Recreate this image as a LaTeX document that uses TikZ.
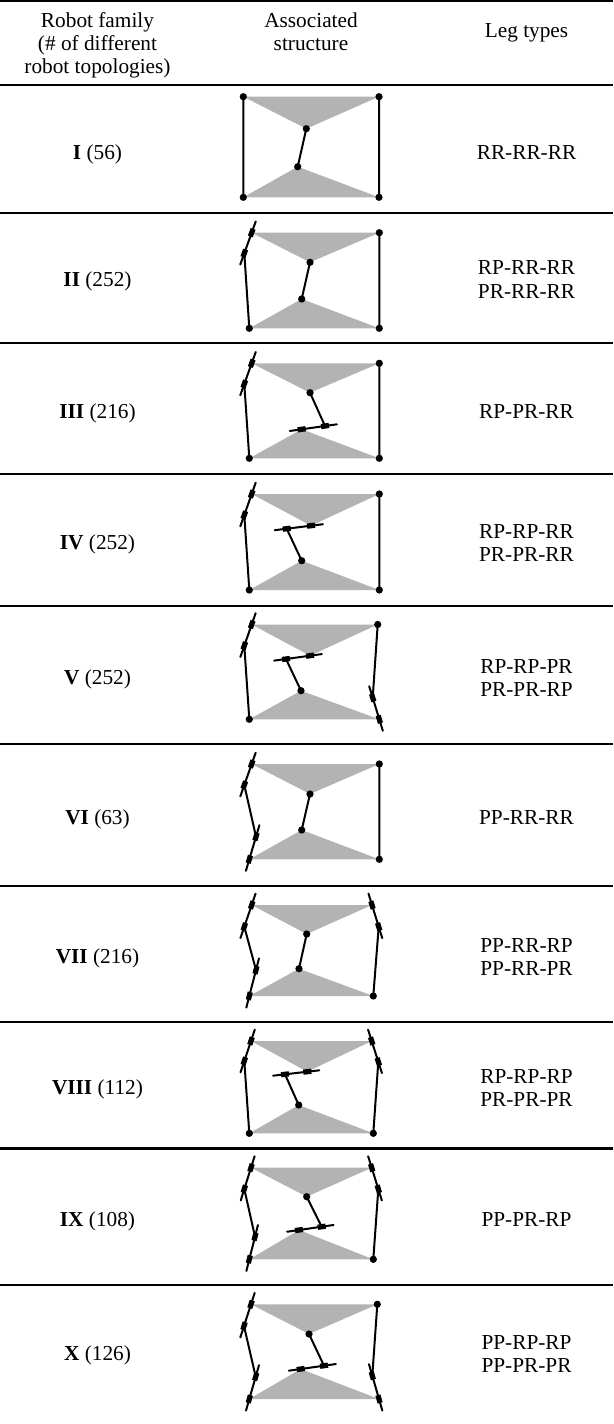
\documentclass[tikz,border=0pt]{standalone}
\usepackage{fontspec}
\setmainfont{Liberation Serif}
\usetikzlibrary{calc}
\definecolor{trigray}{RGB}{179,179,179}
\tikzset{
 leg/.style={line width=0.8pt, line cap=round},
 rulebar/.style={line width=0.95pt},
 plat/.style={fill=trigray, draw=none},
 jdot/.style={circle, fill=black, inner sep=0pt, minimum size=2.9pt},
 jbox/.style={rectangle, fill=black, inner sep=0pt, minimum width=3.2pt, minimum height=2.1pt},
 txt/.style={anchor=base, inner sep=0pt, font=\fontsize{8.52}{9.4}\selectfont},
}
\newcommand{\slid}[2]{%
  \draw[leg] ($(#1)!-4.8pt!(#2)$) -- ($(#2)!-4.8pt!(#1)$);
  \path (#1) -- (#2) node[jbox, sloped, pos=0] (#1box) {} node[jbox, sloped, pos=1] (#2box) {};}
\newcommand{\jd}[1]{\node[jdot] (#1dot) at (#1) {};}
\newcommand{\plats}[6]{\fill[plat] (#1) -- (#2) -- (#3) -- cycle; \fill[plat] (#4) -- (#5) -- (#6) -- cycle;}
\begin{document}
\begin{tikzpicture}[x=0.4pt, y=-0.4pt]
\useasboundingbox (0,0) rectangle (613,1424);
% rules
\foreach \yy in {1.0,85.3,212.7,343.3,474.3,605.7,744,885.7,1022.3,1148.3,1284.7}
  \draw[rulebar] (0,\yy) -- (613,\yy);
% header
\node[txt] (h1a) at (97.5,27.3) {Robot family};
\node[txt] (h1b) at (97.5,50.7) {(\# of different};
\node[txt] (h1c) at (97.5,74) {robot topologies)};
\node[txt] (h2a) at (311,27.3) {Associated};
\node[txt] (h2b) at (311,50.7) {structure};
\node[txt] (h3) at (526.5,37.3) {Leg types};
% labels
\node[txt] (f1) at (97.5,159.2) {\textbf{I} (56)};
\node[txt] (t1) at (526.5,159.2) {RR-RR-RR};
\node[txt] (f2) at (97.5,286.7) {\textbf{II} (252)};
\node[txt] (t2a) at (526.5,275) {RP-RR-RR};
\node[txt] (t2b) at (526.5,298.4) {PR-RR-RR};
\node[txt] (f3) at (97.5,418.7) {\textbf{III} (216)};
\node[txt] (t3) at (526.5,418.7) {RP-PR-RR};
\node[txt] (f4) at (97.5,549.7) {\textbf{IV} (252)};
\node[txt] (t4a) at (526.5,538) {RP-RP-RR};
\node[txt] (t4b) at (526.5,561.4) {PR-PR-RR};
\node[txt] (f5) at (97.5,684.7) {\textbf{V} (252)};
\node[txt] (t5a) at (526.5,673) {RP-RP-PR};
\node[txt] (t5b) at (526.5,696.4) {PR-PR-RP};
\node[txt] (f6) at (97.5,824.7) {\textbf{VI} (63)};
\node[txt] (t6) at (526.5,824.7) {PP-RR-RR};
\node[txt] (f7) at (97.5,963.7) {\textbf{VII} (216)};
\node[txt] (t7a) at (526.5,952) {PP-RR-RP};
\node[txt] (t7b) at (526.5,975.4) {PP-RR-PR};
\node[txt] (f8) at (97.5,1094.7) {\textbf{VIII} (112)};
\node[txt] (t8a) at (526.5,1083) {RP-RP-RP};
\node[txt] (t8b) at (526.5,1106.4) {PR-PR-PR};
\node[txt] (f9) at (97.5,1226.2) {\textbf{IX} (108)};
\node[txt] (t9) at (526.5,1226.2) {PP-PR-RP};
\node[txt] (f10) at (97.5,1360.7) {\textbf{X} (126)};
\node[txt] (t10a) at (526.5,1349) {PP-RP-RP};
\node[txt] (t10b) at (526.5,1372.4) {PP-PR-PR};
% ---------- Row I
\coordinate (r1tl) at (243.3,96.7); \coordinate (r1tr) at (379,96.7);
\coordinate (r1a1) at (306.3,128.7); \coordinate (r1a2) at (297.7,166.7);
\coordinate (r1bl) at (243.3,197.3); \coordinate (r1br) at (379,197.3);
\plats{r1tl}{r1tr}{r1a1}{r1bl}{r1br}{r1a2}
\draw[leg] (r1tl)--(r1bl) (r1tr)--(r1br) (r1a1)--(r1a2);
\jd{r1tl}\jd{r1tr}\jd{r1a1}\jd{r1a2}\jd{r1bl}\jd{r1br}
% ---------- Row II
\coordinate (r2tl) at (251.7,232.7); \coordinate (r2tr) at (379.3,232.7);
\coordinate (r2a1) at (310,262.3); \coordinate (r2a2) at (301.7,299);
\coordinate (r2bl) at (249.3,328.3); \coordinate (r2br) at (379.3,328.3);
\coordinate (r2k) at (244.3,253.3);
\plats{r2tl}{r2tr}{r2a1}{r2bl}{r2br}{r2a2}
\draw[leg] (r2bl)--(r2k) (r2tr)--(r2br) (r2a1)--(r2a2);
\slid{r2k}{r2tl}
\jd{r2tr}\jd{r2br}\jd{r2bl}\jd{r2a1}\jd{r2a2}
% ---------- Row III
\coordinate (r3tl) at (251.7,363.3); \coordinate (r3tr) at (379.3,363.3);
\coordinate (r3a1) at (310,392.7); \coordinate (r3a2) at (301.7,429.3);
\coordinate (r3m) at (325,426);
\coordinate (r3bl) at (249.3,458.3); \coordinate (r3br) at (379.3,458.3);
\coordinate (r3k) at (244.3,384);
\plats{r3tl}{r3tr}{r3a1}{r3bl}{r3br}{r3a2}
\draw[leg] (r3bl)--(r3k) (r3tr)--(r3br) (r3a1)--(r3m);
\slid{r3k}{r3tl}
\slid{r3a2}{r3m}
\jd{r3tr}\jd{r3br}\jd{r3bl}\jd{r3a1}
% ---------- Row IV
\coordinate (r4tl) at (251.7,494); \coordinate (r4tr) at (379.3,494);
\coordinate (r4a1) at (311,525.7); \coordinate (r4m) at (286.7,528.7);
\coordinate (r4a2) at (301.7,560.7);
\coordinate (r4bl) at (249.3,590); \coordinate (r4br) at (379.3,590);
\coordinate (r4k) at (244.3,515);
\plats{r4tl}{r4tr}{r4a1}{r4bl}{r4br}{r4a2}
\draw[leg] (r4bl)--(r4k) (r4tr)--(r4br) (r4m)--(r4a2);
\slid{r4k}{r4tl}
\slid{r4m}{r4a1}
\jd{r4tr}\jd{r4br}\jd{r4bl}\jd{r4a2}
% ---------- Row V
\coordinate (r5tl) at (251.7,624.5); \coordinate (r5tr) at (377.7,624.5);
\coordinate (r5k) at (244.3,645.7);
\coordinate (r5a1) at (310,655.7); \coordinate (r5m) at (286,659);
\coordinate (r5a2) at (301,690.7);
\coordinate (r5kr) at (372.7,697.7);
\coordinate (r5bl) at (249.3,719.3); \coordinate (r5br) at (379.3,719.3);
\plats{r5tl}{r5tr}{r5a1}{r5bl}{r5br}{r5a2}
\draw[leg] (r5bl)--(r5k) (r5tr)--(r5kr) (r5m)--(r5a2);
\slid{r5k}{r5tl}
\slid{r5m}{r5a1}
\slid{r5kr}{r5br}
\jd{r5tr}\jd{r5bl}\jd{r5a2}
% ---------- Row VI
\coordinate (r6tl) at (251.7,764); \coordinate (r6tr) at (379.3,764);
\coordinate (r6k) at (244.3,785); \coordinate (r6k2) at (256,836.7);
\coordinate (r6a1) at (310,794); \coordinate (r6a2) at (301.7,830);
\coordinate (r6bl) at (249.3,859.3); \coordinate (r6br) at (379.3,859.3);
\plats{r6tl}{r6tr}{r6a1}{r6bl}{r6br}{r6a2}
\draw[leg] (r6k)--(r6k2) (r6tr)--(r6br) (r6a1)--(r6a2);
\slid{r6k}{r6tl}
\slid{r6k2}{r6bl}
\jd{r6tr}\jd{r6br}\jd{r6a1}\jd{r6a2}
% ---------- Row VII
\coordinate (r7tl) at (251.7,905); \coordinate (r7tr) at (372,905);
\coordinate (r7k) at (244.3,926.7); \coordinate (r7kr) at (378.7,926.7);
\coordinate (r7a1) at (306.7,934); \coordinate (r7a2) at (299,968.7);
\coordinate (r7k2) at (256,970);
\coordinate (r7bl) at (249.3,996); \coordinate (r7br) at (373.3,996);
\plats{r7tl}{r7tr}{r7a1}{r7bl}{r7br}{r7a2}
\draw[leg] (r7k)--(r7k2) (r7kr)--(r7br) (r7a1)--(r7a2);
\slid{r7k}{r7tl}
\slid{r7k2}{r7bl}
\slid{r7tr}{r7kr}
\jd{r7a1}\jd{r7a2}\jd{r7br}
% ---------- Row VIII
\coordinate (r8tl) at (251,1041); \coordinate (r8tr) at (371.7,1041);
\coordinate (r8k) at (244.3,1061); \coordinate (r8kr) at (378.3,1061.7);
\coordinate (r8a1) at (307.3,1071.7); \coordinate (r8m) at (285,1074.3);
\coordinate (r8a2) at (298.7,1105);
\coordinate (r8bl) at (249.3,1133.3); \coordinate (r8br) at (373.3,1133.3);
\plats{r8tl}{r8tr}{r8a1}{r8bl}{r8br}{r8a2}
\draw[leg] (r8k)--(r8bl) (r8kr)--(r8br) (r8m)--(r8a2);
\slid{r8k}{r8tl}
\slid{r8tr}{r8kr}
\slid{r8m}{r8a1}
\jd{r8a2}\jd{r8bl}\jd{r8br}
% ---------- Row IX
\coordinate (r9tl) at (251,1167.7); \coordinate (r9tr) at (371.7,1167.7);
\coordinate (r9k) at (244.3,1189); \coordinate (r9kr) at (378.3,1189);
\coordinate (r9a1) at (306.7,1196.7); \coordinate (r9m) at (321.7,1226.7);
\coordinate (r9a2) at (299,1230); \coordinate (r9k2) at (255,1236.7);
\coordinate (r9bl) at (249.3,1259.3); \coordinate (r9br) at (373.3,1259.3);
\plats{r9tl}{r9tr}{r9a1}{r9bl}{r9br}{r9a2}
\draw[leg] (r9k)--(r9k2) (r9kr)--(r9br) (r9a1)--(r9m);
\slid{r9k}{r9tl}
\slid{r9k2}{r9bl}
\slid{r9tr}{r9kr}
\slid{r9a2}{r9m}
\jd{r9a1}\jd{r9br}
% ---------- Row X
\coordinate (r10tl) at (251,1304.3); \coordinate (r10tr) at (377.3,1304.3);
\coordinate (r10k) at (244,1326); \coordinate (r10a1) at (309,1334);
\coordinate (r10m) at (324,1365.7); \coordinate (r10a2) at (300.7,1369);
\coordinate (r10k2) at (255.7,1376.7); \coordinate (r10kr) at (372.3,1375.7);
\coordinate (r10bl) at (249.3,1399); \coordinate (r10br) at (379,1399);
\plats{r10tl}{r10tr}{r10a1}{r10bl}{r10br}{r10a2}
\draw[leg] (r10k)--(r10k2) (r10tr)--(r10kr) (r10a1)--(r10m);
\slid{r10k}{r10tl}
\slid{r10k2}{r10bl}
\slid{r10kr}{r10br}
\slid{r10a2}{r10m}
\jd{r10tr}\jd{r10a1}
\end{tikzpicture}
\end{document}
